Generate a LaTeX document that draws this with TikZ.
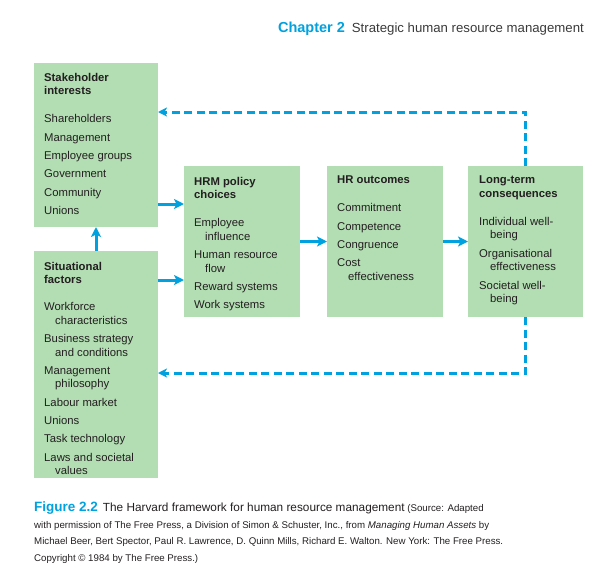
\documentclass[tikz,border=0pt]{standalone}
\usepackage{fontspec}
\setmainfont{Liberation Sans}
\usetikzlibrary{arrows.meta,positioning}
\definecolor{ink}{HTML}{231F20}
\definecolor{sea}{HTML}{00A1DE}
\definecolor{leaf}{HTML}{B3DDB2}
\definecolor{greyink}{HTML}{3A3A3A}
\tikzset{
  panel/.style 2 args={fill=leaf, draw=none, inner sep=0pt, outer sep=0pt,
    minimum width=#1, minimum height=#2, anchor=north west},
  txt/.style={anchor=north west, align=left, inner sep=0pt, text=ink,
    font=\fontsize{11.3}{13.5}\selectfont},
  flow/.style={-{Stealth[length=10pt,width=10pt,inset=2.5pt]}, line width=3pt, color=sea},
  back/.style={-{Stealth[length=9pt,width=9pt,inset=2.5pt]}, line width=3pt, color=sea,
    dash pattern=on 8pt off 4.5pt},
}

\begin{document}
\begin{tikzpicture}[x=1pt,y=-1pt]
  \useasboundingbox (0,0) rectangle (611,563);
  % header
  \node[anchor=base east, inner sep=0pt, text=greyink, font=\fontsize{13.2}{15}\selectfont] (head) at (584,32)
    {{\fontsize{14.5}{15}\selectfont\bfseries\color{sea}Chapter 2}\hspace{7pt}Strategic human resource management};

  % boxes
  \node[panel={124pt}{164pt}] (stake) at (34,63) {};
  \node[panel={124pt}{227pt}] (sit) at (34,251) {};
  \node[panel={116pt}{151pt}] (hrm) at (184,166) {};
  \node[panel={116pt}{151pt}] (hr) at (327,166) {};
  \node[panel={115pt}{151pt}] (long) at (468,166) {};

  \node[txt] (stakeT) at ([xshift=10pt,yshift=-10pt]stake.north west)
    {\textbf{Stakeholder}\\ \textbf{interests}\\[14.5pt]
     Shareholders\\[4.8pt] Management\\[4.8pt] Employee groups\\[4.8pt]
     Government\\[4.8pt] Community\\[4.8pt] Unions};
  \node[txt] (sitT) at ([xshift=10pt,yshift=-11pt]sit.north west)
    {\textbf{Situational}\\ \textbf{factors}\\[13.5pt]
     Workforce\\ \hspace*{11pt}characteristics\\[4.8pt]
     Business strategy\\ \hspace*{11pt}and conditions\\[4.8pt]
     Management\\ \hspace*{11pt}philosophy\\[4.8pt]
     Labour market\\[4.8pt] Unions\\[4.8pt] Task technology\\[4.8pt]
     Laws and societal\\ \hspace*{11pt}values};
  \node[txt] (hrmT) at ([xshift=10pt,yshift=-11pt]hrm.north west)
    {\textbf{HRM policy}\\ \textbf{choices}\\[14.5pt]
     Employee\\ \hspace*{11pt}influence\\[4.8pt]
     Human resource\\ \hspace*{11pt}flow\\[4.8pt]
     Reward systems\\[4.8pt] Work systems};
  \node[txt] (hrT) at ([xshift=10pt,yshift=-10pt]hr.north west)
    {\textbf{HR outcomes}\\[14.5pt]
     Commitment\\[4.8pt] Competence\\[4.8pt] Congruence\\[4.8pt]
     Cost\\ \hspace*{11pt}effectiveness};
  \node[txt] (longT) at ([xshift=11pt,yshift=-10pt]long.north west)
    {\textbf{Long-term}\\ \textbf{consequences}\\[14.5pt]
     Individual well-\\ \hspace*{11pt}being\\[4.8pt]
     Organisational\\ \hspace*{11pt}effectiveness\\[4.8pt]
     Societal well-\\ \hspace*{11pt}being};

  % connectors
  \coordinate (inA) at (0,204);
  \coordinate (inB) at (0,280);
  \coordinate (fbA) at (0,112);
  \coordinate (fbB) at (0,373);
  \draw[flow] (stake.east |- inA) -- (hrm.west |- inA);
  \draw[flow] (sit.east |- inB) -- (hrm.west |- inB);
  \draw[flow] (sit.north) -- (stake.south);
  \draw[flow] (hrm.east) -- (hr.west);
  \draw[flow] (hr.east) -- (long.west);
  \draw[back] (long.north) |- (stake.east |- fbA);
  \draw[back] (long.south) |- (sit.east |- fbB);

  % caption
  \node[anchor=north west, align=left, inner sep=0pt, text=ink, font=\fontsize{9.7}{16.5}\selectfont] (cap) at (34,502)
    {{\fontsize{13.5}{16.5}\selectfont\bfseries\color{sea}Figure 2.2}\hspace{5pt}{\fontsize{11.8}{16.5}\selectfont The Harvard framework for human resource management} (Source: Adapted\\
     with permission of The Free Press, a Division of Simon \& Schuster, Inc., from \textit{Managing Human Assets} by\\
     Michael Beer, Bert Spector, Paul R. Lawrence, D. Quinn Mills, Richard E. Walton. New York: The Free Press.\\
     Copyright \textcopyright{} 1984 by The Free Press.)};
\end{tikzpicture}
\end{document}
